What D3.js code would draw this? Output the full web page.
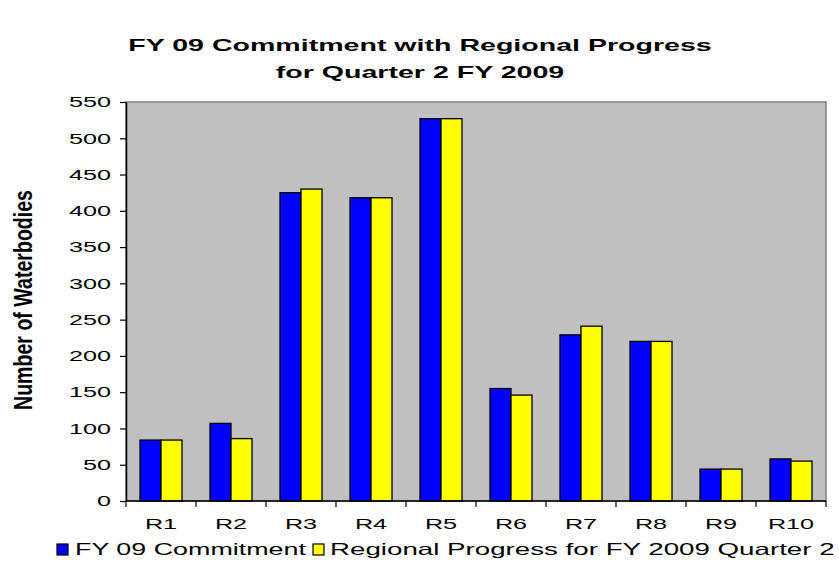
<!DOCTYPE html>
<html>
<head>
<meta charset="UTF-8">
<title>FY 09 Commitment with Regional Progress</title>
<script src="https://d3js.org/d3.v7.min.js"></script>
<style>
  body { margin: 0; background: #fff; }
  svg { display: block; font-family: Arial, "Liberation Sans", sans-serif; }
</style>
</head>
<body>
<svg id="chart" width="839" height="570"></svg>
<script>
// data
const regions = ["R1", "R2", "R3", "R4", "R5", "R6", "R7", "R8", "R9", "R10"];
const commitment = [84, 107, 425, 418, 527, 155, 229, 220, 44, 58];
const progress = [84, 86, 430, 418, 527, 146, 241, 220, 44, 55];
const seriesNames = ["FY 09 Commitment", "Regional Progress for FY 2009 Quarter 2"];
const seriesColors = ["#0000ff", "#ffff00"];
const yTicks = [0, 50, 100, 150, 200, 250, 300, 350, 400, 450, 500, 550];

// the original picture is stretched sideways, so text is too
const SX = 1.68;

const plot = { left: 126, right: 826, top: 102, bottom: 501 };
const svg = d3.select("#chart");

const rows = regions.map((r, i) => ({ region: r, values: [commitment[i], progress[i]] }));

const x = d3.scaleBand()
    .domain(regions)
    .range([plot.left, plot.right])
    .paddingInner(0.4)
    .paddingOuter(0.2);

const xs = d3.scaleBand()
    .domain([0, 1])
    .range([0, x.bandwidth()]);

const y = d3.scaleLinear()
    .domain([0, 550])
    .range([plot.bottom, plot.top]);

function stretched(sel, px, py) {
    return sel.attr("transform", `translate(${px},${py}) scale(${SX},1)`);
}

// title
const title = ["FY 09 Commitment with Regional Progress", "for Quarter 2 FY 2009"];
title.forEach((t, i) => {
    stretched(svg.append("text"), 420, 51 + i * 27)
        .attr("text-anchor", "middle")
        .style("font-size", "17px")
        .style("font-weight", "bold")
        .text(t);
});

// plot background
svg.append("rect")
    .attr("x", plot.left).attr("y", plot.top)
    .attr("width", plot.right - plot.left)
    .attr("height", plot.bottom - plot.top)
    .attr("fill", "#c0c0c0")
    .attr("stroke", "#808080")
    .attr("stroke-width", 1.5);

// bars
const groups = svg.selectAll(".grp")
    .data(rows)
    .enter().append("g")
    .attr("class", "grp")
    .attr("transform", d => `translate(${x(d.region)},0)`);

groups.selectAll("rect")
    .data(d => d.values.map((v, k) => ({ k: k, v: v })))
    .enter().append("rect")
    .attr("x", d => xs(d.k))
    .attr("y", d => y(d.v))
    .attr("width", xs.bandwidth())
    .attr("height", d => y(0) - y(d.v))
    .attr("fill", d => seriesColors[d.k])
    .attr("stroke", "#000")
    .attr("stroke-width", 1.3);

// y axis
const yAxis = svg.append("g")
    .attr("transform", `translate(${plot.left},0)`)
    .call(d3.axisLeft(y).tickValues(yTicks).tickSize(6).tickSizeOuter(0));
yAxis.select(".domain").attr("stroke", "#000").attr("stroke-width", 1.5);
yAxis.selectAll(".tick line").attr("stroke", "#000").attr("stroke-width", 1.2);
yAxis.selectAll(".tick text")
    .attr("x", -15 / SX)
    .attr("transform", `scale(${SX},1)`)
    .style("font-size", "15px")
    .style("font-family", "Arial, 'Liberation Sans', sans-serif")
    .attr("fill", "#000");

// x axis line with ticks between categories
svg.append("line")
    .attr("x1", plot.left).attr("x2", plot.right)
    .attr("y1", plot.bottom).attr("y2", plot.bottom)
    .attr("stroke", "#000").attr("stroke-width", 1.5);

const bounds = regions.map(r => x(r) - x.step() * x.paddingInner() / 2).concat([plot.right]);
svg.selectAll(".xtick")
    .data(bounds)
    .enter().append("line")
    .attr("class", "xtick")
    .attr("x1", d => d).attr("x2", d => d)
    .attr("y1", plot.bottom).attr("y2", plot.bottom + 6)
    .attr("stroke", "#000").attr("stroke-width", 1.2);

regions.forEach(r => {
    stretched(svg.append("text"), x(r) + x.bandwidth() / 2, 529)
        .attr("text-anchor", "middle")
        .style("font-size", "15px")
        .text(r);
});

// y axis title
svg.append("text")
    .attr("transform", "translate(23,300) rotate(-90) scale(1,1.3)")
    .attr("text-anchor", "middle")
    .attr("dominant-baseline", "central")
    .attr("textLength", 220)
    .attr("lengthAdjust", "spacingAndGlyphs")
    .style("font-size", "20px")
    .style("font-weight", "bold")
    .text("Number of Waterbodies");

// legend
const legendX = [57, 313];
seriesNames.forEach((name, k) => {
    svg.append("rect")
        .attr("x", legendX[k]).attr("y", 544)
        .attr("width", 11).attr("height", 11)
        .attr("fill", seriesColors[k])
        .attr("stroke", "#000").attr("stroke-width", 1.2);
    stretched(svg.append("text"), legendX[k] + (k === 0 ? 18 : 17), 555)
        .style("font-size", k === 0 ? "16px" : "16.5px")
        .text(name);
});
</script>
</body>
</html>
